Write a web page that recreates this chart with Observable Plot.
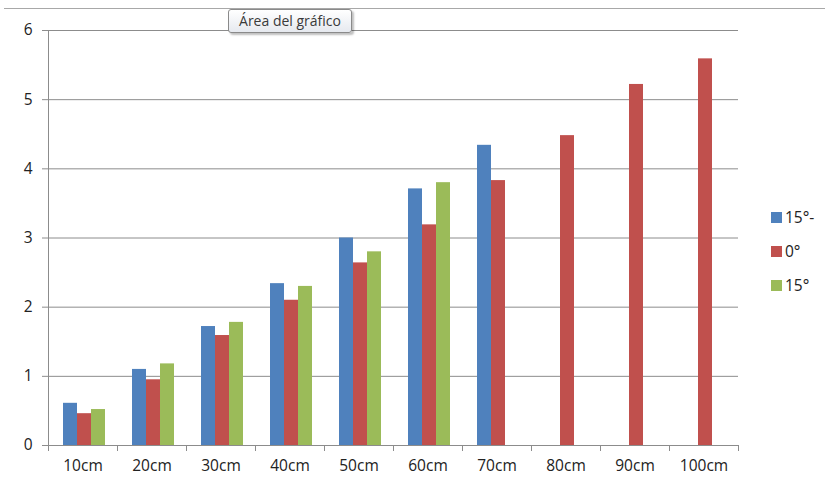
<!DOCTYPE html>
<html>
<head>
<meta charset="utf-8">
<script src="https://cdn.jsdelivr.net/npm/d3@7"></script>
<script src="https://cdn.jsdelivr.net/npm/@observablehq/plot@0.6"></script>
<style>
  body { margin: 0; background: #fff; }
  #wrap { position: relative; width: 825px; height: 487px; overflow: hidden; font-family: "Open Sans", Lato, sans-serif; background: #fff; }
  #wrap svg { position: absolute; left: 0; top: 0; }
  #topline { position: absolute; left: 4px; right: 0; top: 8px; border-top: 1px solid #a8a8a8; }
  #tip { position: absolute; left: 228px; top: 9px; width: 124px; height: 24px; box-sizing: border-box;
         border: 1px solid #8a8a8a; border-radius: 3px; background: linear-gradient(#ffffff, #e6e9ef);
         box-shadow: 2px 2px 2px rgba(0,0,0,0.25); font-size: 14px; color: #3a3a3a; line-height: 21px; text-align: center; }
  #legend { position: absolute; left: 771px; top: 200px; font-size: 15.5px; color: #222; }
  .item { display: flex; align-items: center; height: 34px; }
  .sw { width: 11px; height: 11px; margin-right: 3px; }
</style>
</head>
<body>
<div id="wrap">
  <div id="topline"></div>
  <div id="legend"></div>
  <div id="tip">Área del gráfico</div>
</div>
<script>
const categories = ["10cm", "20cm", "30cm", "40cm", "50cm", "60cm", "70cm", "80cm", "90cm", "100cm"];
const series = ["15°-", "0°", "15°"];
const colors = ["#4F81BD", "#C0504D", "#9BBB59"];
const valuesMinus15 = [0.61, 1.10, 1.72, 2.34, 3.00, 3.71, 4.34, null, null, null];
const values0 = [0.46, 0.95, 1.59, 2.10, 2.64, 3.19, 3.83, 4.48, 5.22, 5.59];
const values15 = [0.52, 1.18, 1.78, 2.30, 2.80, 3.80, null, null, null, null];
const yTicks = [0, 1, 2, 3, 4, 5, 6];

const seriesValues = [valuesMinus15, values0, values15];
const table = [];
series.forEach((s, i) => {
  categories.forEach((c, j) => {
    const v = seriesValues[i][j];
    if (v != null) table.push({category: c, series: s, value: v});
  });
});

const W = 825, H = 487, mL = 45, mR = 85, mT = 30, mB = 42;
const innerH = H - mT - mB;
const gray = "#8c8c8c";

const chart = Plot.plot({
  width: W, height: H,
  marginLeft: mL, marginRight: mR, marginTop: mT, marginBottom: mB,
  style: {fontFamily: "'Open Sans', Lato, sans-serif", fontSize: "15.5px", color: "#222", background: "transparent", overflow: "visible"},
  fx: {domain: categories, padding: 0, label: null},
  x: {domain: series, paddingInner: 0, paddingOuter: 0.817, align: 0.56, axis: null},
  y: {domain: [0, 6], label: null},
  color: {domain: series, range: colors},
  marks: [
    Plot.ruleY(yTicks.slice(1), {stroke: gray, strokeWidth: 1}),
    Plot.barY(table, {fx: "category", x: "series", y: "value", fill: "series"}),
    Plot.ruleY([0], {stroke: gray, strokeWidth: 1}),
    Plot.frame({anchor: "left", stroke: gray, insetTop: innerH, insetBottom: -5}),
    Plot.frame({anchor: "right", stroke: gray, insetTop: innerH, insetBottom: -5}),
    Plot.frame({anchor: "left", stroke: gray, fx: [categories[0]]}),
    Plot.axisY({ticks: yTicks, tickSize: 6, tickPadding: 10, stroke: gray, label: null, tickFormat: d => String(d)}),
    Plot.axisFx({anchor: "bottom", tickSize: 0, tickPadding: 14, label: null})
  ]
});
document.getElementById("wrap").prepend(chart);

const legend = document.getElementById("legend");
series.forEach((s, i) => {
  const item = document.createElement("div");
  item.className = "item";
  const sw = document.createElement("div");
  sw.className = "sw";
  sw.style.background = colors[i];
  const t = document.createElement("span");
  t.textContent = s;
  item.appendChild(sw);
  item.appendChild(t);
  legend.appendChild(item);
});
</script>
</body>
</html>
